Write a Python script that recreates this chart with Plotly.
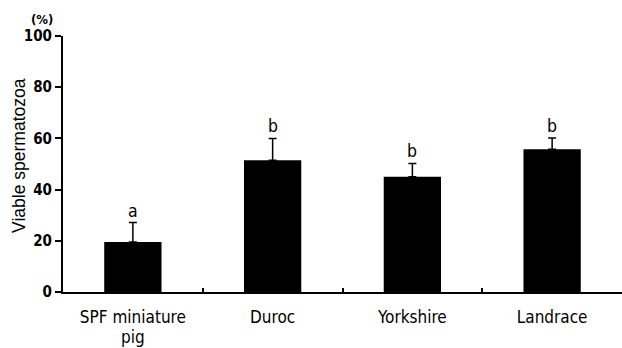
import plotly.graph_objects as go

# Viable spermatozoa by breed (mean with upper error bar, %)
breeds = ["SPF miniature<br>pig", "Duroc", "Yorkshire", "Landrace"]
viable = [19.5, 51.5, 45.0, 55.8]
err_plus = [7.6, 8.5, 5.2, 4.4]
letters = ["a", "b", "b", "b"]

y_ticks = [0, 20, 40, 60, 80, 100]

narrow = "DejaVu Sans Condensed, Liberation Sans Narrow, Arial Narrow, sans-serif"
sans = "Liberation Sans, Arial, sans-serif"


def big(label, px=17):
    # enlarge each line of a category label while keeping tight line spacing
    return "<br>".join(f'<span style="font-size:{px}px">{ln}</span>'
                       for ln in label.split("<br>"))


fig = go.Figure()
fig.add_trace(go.Bar(
    x=breeds,
    y=viable,
    marker=dict(color="black", line=dict(width=0)),
    error_y=dict(type="data", symmetric=False, array=err_plus,
                 arrayminus=[0] * len(err_plus),
                 color="black", thickness=1.5, width=4),
    showlegend=False,
))

# significance letters above each error bar
for b, v, e, t in zip(breeds, viable, err_plus, letters):
    fig.add_annotation(x=b, y=v + e, text=t, showarrow=False,
                       yanchor="bottom", yshift=0,
                       font=dict(family=narrow, size=17.5, color="black"))

# y-axis title and unit
fig.add_annotation(xref="paper", yref="paper", x=-0.079, y=0.535,
                   text="Viable spermatozoa", textangle=-90, showarrow=False,
                   xanchor="center", yanchor="middle",
                   font=dict(family=sans, size=17.5, color="black"))
fig.add_annotation(xref="paper", yref="paper", x=-0.038, y=1.0,
                   text="(%)", showarrow=False, xanchor="center", yanchor="bottom",
                   yshift=7,
                   font=dict(family=narrow, size=13, color="black", weight="bold"))

fig.update_layout(
    width=622, height=348,
    margin=dict(l=63, r=0, t=36, b=56, autoexpand=False),
    plot_bgcolor="white", paper_bgcolor="white",
    bargap=0.59,
    xaxis=dict(
        type="category", range=[-0.5, 3.5], automargin=False,
        tickvals=breeds, ticktext=[big(b) for b in breeds],
        showline=True, linecolor="black", linewidth=2,
        ticks="inside", tickson="boundaries", ticklen=4, tickwidth=1.5,
        tickcolor="black", showgrid=False, zeroline=False,
        ticklabelstandoff=11,
        tickfont=dict(family=narrow, size=15, color="black"),
    ),
    yaxis=dict(
        range=[0, 100], tickvals=y_ticks, automargin=False,
        showline=True, linecolor="black", linewidth=2,
        ticks="outside", ticklen=6, tickwidth=1.5, tickcolor="black",
        showgrid=False, zeroline=False,
        tickfont=dict(family=narrow, size=15, color="black", weight="bold"),
    ),
)

fig.write_html("out.html")
